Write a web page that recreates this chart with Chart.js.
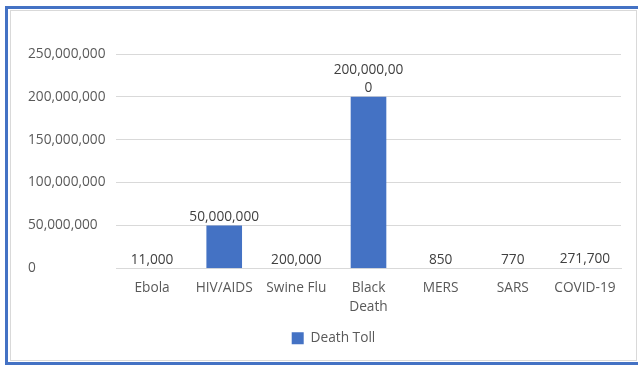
<!DOCTYPE html>
<html>
<head>
<meta charset="utf-8">
<script src="https://cdn.jsdelivr.net/npm/chart.js@4"></script>
<style>
  html, body { margin: 0; padding: 0; background: #fff; overflow: hidden; }
  body { width: 638px; height: 365px; position: relative; }
  .outer {
    position: absolute; left: 5px; top: 6px; width: 650px; height: 353px;
    border: 3px solid #4472C4;
  }
  .inner {
    position: absolute; left: 10px; top: 10px; width: 625px; height: 349px;
    border: 1px solid #d9d9d9;
  }
  #wrap { position: absolute; left: 0; top: 0; width: 638px; height: 365px; }
</style>
</head>
<body>
<div class="outer"></div>
<div class="inner"></div>
<div id="wrap"><canvas id="chart"></canvas></div>
<script>
// Data
const diseases = ['Ebola', 'HIV/AIDS', 'Swine Flu', ['Black', 'Death'], 'MERS', 'SARS', 'COVID-19'];
const deathToll = [11000, 50000000, 200000, 200000000, 850, 770, 271700];
const valueLabels = [['11,000'], ['50,000,000'], ['200,000'], ['200,000,00', '0'], ['850'], ['770'], ['271,700']];
const yTicks = [0, 50000000, 100000000, 150000000, 200000000, 250000000];

const FONT = "'Open Sans', sans-serif";
const SIZE = 13.7;

// draws the value above each bar, like Excel's data labels
const barValueLabels = {
    id: 'barValueLabels',
    afterLayout(chart) {
        // excel centres the legend a bit further right than chart.js does
        if (chart.legend) {
            chart.legend.left += 18;
        }
    },
    afterDatasetsDraw(chart) {
        const ctx = chart.ctx;
        const meta = chart.getDatasetMeta(0);
        ctx.save();
        ctx.font = SIZE + 'px ' + FONT;
        ctx.fillStyle = '#404040';
        ctx.textAlign = 'center';
        ctx.textBaseline = 'middle';
        meta.data.forEach((bar, i) => {
            const { x, y } = bar.getProps(['x', 'y'], true);
            const lines = valueLabels[i];
            lines.forEach((line, j) => {
                const offset = (lines.length - 1 - j) * 18;
                ctx.fillText(line, x, y - 8.5 - offset);
            });
        });
        ctx.restore();
    }
};

const ctx = document.getElementById('chart').getContext('2d');
new Chart(ctx, {
    type: 'bar',
    data: {
        labels: diseases,
        datasets: [{
            label: 'Death Toll',
            data: deathToll,
            backgroundColor: '#4472C4',
            borderWidth: 0,
            inflateAmount: 0,
            barPercentage: 0.494,
            categoryPercentage: 1
        }]
    },
    options: {
        responsive: true,
        maintainAspectRatio: false,
        animation: false,
        layout: {
            padding: { left: 28, right: 17, top: 54, bottom: 10 }
        },
        scales: {
            x: {
                grid: { display: false, drawTicks: false },
                border: { display: true, color: '#d9d9d9', width: 1 },
                ticks: {
                    color: '#595959',
                    font: { family: FONT, size: SIZE, lineHeight: 1.34 },
                    padding: 11,
                    maxRotation: 0,
                    autoSkip: false
                },
                afterFit(scale) { scale.height = 53; }
            },
            y: {
                min: 0,
                max: 250000000,
                afterBuildTicks(scale) {
                    scale.ticks = yTicks.map(v => ({ value: v }));
                },
                grid: {
                    color: '#d9d9d9',
                    drawTicks: false,
                    // the zero line comes from the x border, so tiny bars are not lifted above it
                    lineWidth: c => (c.tick && c.tick.value === 0 ? 0 : 1)
                },
                border: { display: false },
                ticks: {
                    color: '#595959',
                    font: { family: FONT, size: SIZE },
                    crossAlign: 'far',
                    padding: 9,
                    callback: function (value) {
                        return value.toLocaleString('en-US');
                    }
                },
                afterFit(scale) { scale.width = 88; }
            }
        },
        plugins: {
            legend: {
                position: 'bottom',
                labels: {
                    color: '#595959',
                    font: { family: FONT, size: SIZE },
                    boxWidth: 12,
                    boxHeight: 12,
                    padding: 10
                }
            },
            tooltip: { enabled: false }
        }
    },
    plugins: [barValueLabels]
});
</script>
</body>
</html>
